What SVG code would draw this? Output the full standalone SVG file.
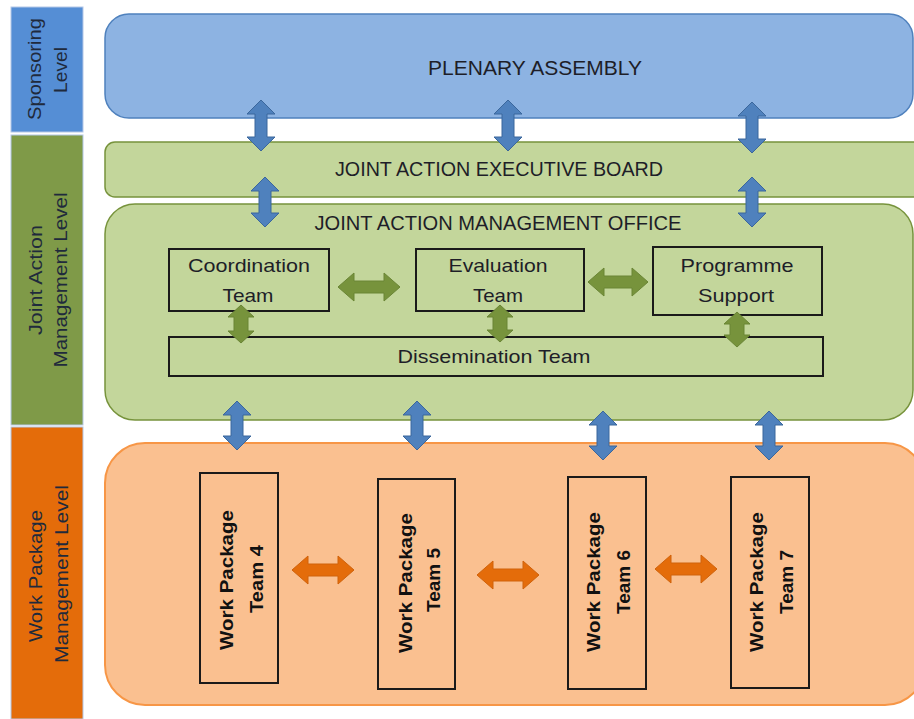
<svg xmlns="http://www.w3.org/2000/svg" width="914" height="719" viewBox="0 0 914 719">
<style>
  text { font-family: "Liberation Sans", Arial, sans-serif; fill: #1e1e28; }
  .lvl { font-size: 18px; fill: #1f2a3c; }
  .big { font-size: 20px; }
  .mid { font-size: 19px; }
  .wp { font-size: 19px; font-weight: bold; fill: #111; }
  .bar { stroke: #b4c7e7; stroke-width: 1; }
  .box { fill: none; stroke: #1a1a1a; stroke-width: 2; }
  .ab { fill: #4f81bd; stroke: #3b679c; stroke-width: 1; }
  .ag { fill: #77933c; stroke: #6a8535; stroke-width: 1; }
  .ao { fill: #e46c0a; stroke: #d0620a; stroke-width: 1; }
</style>
<rect width="914" height="719" fill="#ffffff"/>

<g id="level-bars">
  <rect class="bar" x="11" y="7" width="72" height="125" fill="#558ed5"/>
  <rect class="bar" x="11" y="135" width="72" height="290" fill="#7f9a48"/>
  <rect class="bar" x="11" y="427" width="72" height="292" fill="#e46c0a"/>
  <text class="lvl" transform="translate(41,69) rotate(-90)" text-anchor="middle" textLength="102" lengthAdjust="spacingAndGlyphs">Sponsoring</text>
  <text class="lvl" transform="translate(67,70) rotate(-90)" text-anchor="middle" textLength="46" lengthAdjust="spacingAndGlyphs">Level</text>
  <text class="lvl" transform="translate(42,280) rotate(-90)" text-anchor="middle" textLength="110" lengthAdjust="spacingAndGlyphs">Joint Action</text>
  <text class="lvl" transform="translate(67,280) rotate(-90)" text-anchor="middle" textLength="175" lengthAdjust="spacingAndGlyphs">Management Level</text>
  <text class="lvl" transform="translate(42,576) rotate(-90)" text-anchor="middle" textLength="132" lengthAdjust="spacingAndGlyphs">Work Package</text>
  <text class="lvl" transform="translate(68,574) rotate(-90)" text-anchor="middle" textLength="178" lengthAdjust="spacingAndGlyphs">Management Level</text>
</g>

<g id="plenary-assembly">
  <rect x="105" y="14" width="808" height="104" rx="24" fill="#8db3e2" stroke="#4f81bd" stroke-width="1.5"/>
  <text class="big" x="535" y="75" text-anchor="middle" textLength="214" lengthAdjust="spacingAndGlyphs">PLENARY ASSEMBLY</text>
</g>

<g id="executive-board">
  <rect x="105" y="142" width="820" height="55" rx="10" fill="#c3d69b" stroke="#77933c" stroke-width="1.5"/>
  <text class="big" x="499" y="176" text-anchor="middle" textLength="328" lengthAdjust="spacingAndGlyphs">JOINT ACTION EXECUTIVE BOARD</text>
</g>

<g id="management-office">
  <rect x="105" y="204" width="808" height="216" rx="30" fill="#c3d69b" stroke="#77933c" stroke-width="1.5"/>
  <text class="big" x="498" y="230" text-anchor="middle" textLength="367" lengthAdjust="spacingAndGlyphs">JOINT ACTION MANAGEMENT OFFICE</text>
</g>

<g id="coordination-team">
  <rect class="box" x="169" y="249" width="160" height="62"/>
  <text class="mid" x="249" y="272" text-anchor="middle" textLength="122" lengthAdjust="spacingAndGlyphs">Coordination</text>
  <text class="mid" x="248" y="302" text-anchor="middle" textLength="51" lengthAdjust="spacingAndGlyphs">Team</text>
</g>

<g id="evaluation-team">
  <rect class="box" x="416" y="249" width="168" height="62"/>
  <text class="mid" x="498" y="272" text-anchor="middle" textLength="99" lengthAdjust="spacingAndGlyphs">Evaluation</text>
  <text class="mid" x="498" y="302" text-anchor="middle" textLength="50" lengthAdjust="spacingAndGlyphs">Team</text>
</g>

<g id="programme-support">
  <rect class="box" x="653" y="247" width="169" height="68"/>
  <text class="mid" x="737" y="272" text-anchor="middle" textLength="113" lengthAdjust="spacingAndGlyphs">Programme</text>
  <text class="mid" x="736" y="302" text-anchor="middle" textLength="76" lengthAdjust="spacingAndGlyphs">Support</text>
</g>

<g id="dissemination-team">
  <rect class="box" x="169" y="337" width="654" height="39"/>
  <text class="mid" x="494" y="363" text-anchor="middle" textLength="193" lengthAdjust="spacingAndGlyphs">Dissemination Team</text>
</g>

<g id="work-package-area">
  <rect x="105" y="443" width="820" height="262" rx="40" fill="#fac090" stroke="#f79646" stroke-width="2"/>
</g>

<g id="wp4">
  <rect class="box" x="200" y="473" width="78" height="210"/>
  <text class="wp" transform="translate(233,580) rotate(-90)" text-anchor="middle" textLength="140" lengthAdjust="spacingAndGlyphs">Work Package</text>
  <text class="wp" transform="translate(263,579) rotate(-90)" text-anchor="middle" textLength="68" lengthAdjust="spacingAndGlyphs">Team 4</text>
</g>
<g id="wp5">
  <rect class="box" x="378" y="479" width="77" height="210"/>
  <text class="wp" transform="translate(412,583) rotate(-90)" text-anchor="middle" textLength="140" lengthAdjust="spacingAndGlyphs">Work Package</text>
  <text class="wp" transform="translate(440,580) rotate(-90)" text-anchor="middle" textLength="64" lengthAdjust="spacingAndGlyphs">Team 5</text>
</g>
<g id="wp6">
  <rect class="box" x="568" y="477" width="78" height="212"/>
  <text class="wp" transform="translate(600,582) rotate(-90)" text-anchor="middle" textLength="140" lengthAdjust="spacingAndGlyphs">Work Package</text>
  <text class="wp" transform="translate(630,582) rotate(-90)" text-anchor="middle" textLength="64" lengthAdjust="spacingAndGlyphs">Team 6</text>
</g>
<g id="wp7">
  <rect class="box" x="731" y="477" width="78" height="211"/>
  <text class="wp" transform="translate(763,582) rotate(-90)" text-anchor="middle" textLength="140" lengthAdjust="spacingAndGlyphs">Work Package</text>
  <text class="wp" transform="translate(793,582) rotate(-90)" text-anchor="middle" textLength="64" lengthAdjust="spacingAndGlyphs">Team 7</text>
</g>

<g id="connectors">
  <!-- blue vertical double arrows -->
  <polygon class="ab" points="261,100 275,114 267,114 267,137 275,137 261,151 247,137 255,137 255,114 247,114"/>
  <polygon class="ab" points="508,100 522,114 514,114 514,137 522,137 508,151 494,137 502,137 502,114 494,114"/>
  <polygon class="ab" points="752,102 766,116 758,116 758,139 766,139 752,153 738,139 746,139 746,116 738,116"/>
  <polygon class="ab" points="265,177 279,191 271,191 271,213 279,213 265,227 251,213 259,213 259,191 251,191"/>
  <polygon class="ab" points="752,177 766,191 758,191 758,213 766,213 752,227 738,213 746,213 746,191 738,191"/>
  <polygon class="ab" points="237,401 251,415 243,415 243,436 251,436 237,450 223,436 231,436 231,415 223,415"/>
  <polygon class="ab" points="417,401 431,415 423,415 423,436 431,436 417,450 403,436 411,436 411,415 403,415"/>
  <polygon class="ab" points="603,411 617,425 609,425 609,446 617,446 603,460 589,446 597,446 597,425 589,425"/>
  <polygon class="ab" points="769,411 783,425 775,425 775,446 783,446 769,460 755,446 763,446 763,425 755,425"/>
  <!-- green arrows -->
  <polygon class="ag" points="338,287 354,273 354,281 384,281 384,273 400,287 384,301 384,293 354,293 354,301"/>
  <polygon class="ag" points="588,282 604,268 604,276 632,276 632,268 648,282 632,296 632,288 604,288 604,296"/>
  <polygon class="ag" points="241,305 254,317 248,317 248,331 254,331 241,343 228,331 234,331 234,317 228,317"/>
  <polygon class="ag" points="500,305 513,317 507,317 507,330 513,330 500,342 487,330 493,330 493,317 487,317"/>
  <polygon class="ag" points="737,312 750,324 744,324 744,335 750,335 737,347 724,335 730,335 730,324 724,324"/>
  <!-- orange arrows -->
  <polygon class="ao" points="292,570 308,556 308,564 338,564 338,556 354,570 338,584 338,576 308,576 308,584"/>
  <polygon class="ao" points="477,575 493,561 493,569 523,569 523,561 539,575 523,589 523,581 493,581 493,589"/>
  <polygon class="ao" points="655,569 671,555 671,563 701,563 701,555 717,569 701,583 701,575 671,575 671,583"/>
</g>
</svg>
